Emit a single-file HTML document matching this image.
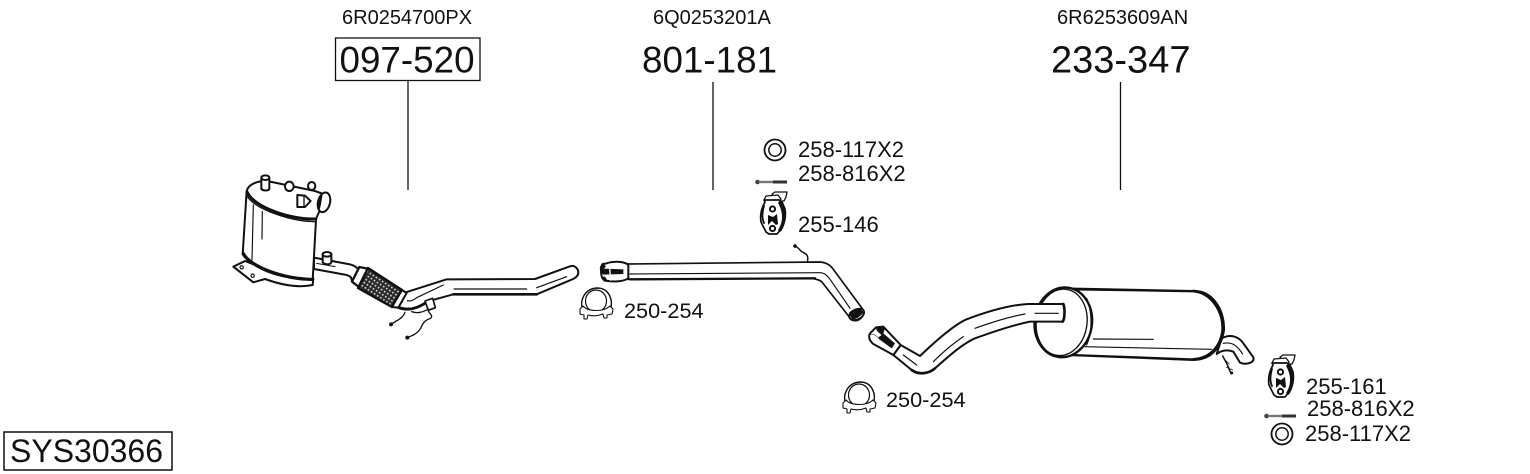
<!DOCTYPE html>
<html><head><meta charset="utf-8"><style>
html,body{margin:0;padding:0;background:#fff;width:1530px;height:474px;overflow:hidden}
svg{display:block}
text{font-family:"Liberation Sans",sans-serif;fill:#111}
.s{font-size:20px}.m{font-size:22px}.n{font-size:21.7px}.b{font-size:36.8px}
.k{fill:none;stroke:#111;stroke-linecap:round;stroke-linejoin:round}
.w{fill:#fff;stroke:#111;stroke-linecap:round;stroke-linejoin:round}
</style></head><body>
<svg width="1530" height="474" viewBox="0 0 1530 474" xmlns="http://www.w3.org/2000/svg">
<defs>
<pattern id="mesh" width="11" height="11" patternUnits="userSpaceOnUse" patternTransform="rotate(33)">
<rect width="11" height="11" fill="#2a2a2a"/><circle cx="5.500" cy="5.500" r="2.800" fill="#ddd"/>
</pattern>
<g id="clamp">
<path class="k" stroke-width="1.4" d="M-13 8 C-17 -2 -12 -14 1 -15 C13 -15 18 -3 14 8"/>
<ellipse class="k" stroke-width="1.2" cx="0" cy="-2" rx="10.500" ry="11"/>
<path class="w" stroke-width="1.1" d="M-16 6 L-13 3 C-8 9 8 9 14 3 L17 6 L16 11 L11 12 L11 15 L8 15 L7 11 C2 13 -4 13 -8 12 L-9 16 L-12 16 L-12 12 L-16 11 Z"/>
</g>
<g id="ring">
<circle class="k" stroke-width="1.8" cx="0" cy="0" r="10.500"/>
<circle class="k" stroke-width="1.5" cx="0" cy="0" r="6.200"/>
</g>
<g id="bolt">
<circle cx="2.500" cy="0" r="2.300" fill="#444"/>
<rect x="4" y="-1.200" width="15" height="2.400" fill="#777"/>
<rect x="18" y="-1.500" width="14" height="3" fill="#333"/>
</g>
<g id="hanger">
<path class="w" stroke-width="1.3" d="M7 -1 L10 -3 L22 -3 L21 2 L19 6 L11 6 Z"/>
<path class="w" stroke-width="1.3" d="M-1 5 L1 1 L13 0 L16 4 L14 6 Z"/>
<path class="w" stroke-width="1.7" d="M-1 5 L0 7 C-4 14 -5 21 -4 27 L1 37 L4 39 L12 39 L17 33 C20 27 21 20 20 14 L17 7 L14 5 Z"/>
<path class="k" stroke-width="3.400" d="M15 8 C20 17 20 27 15 35"/>
<path class="k" stroke-width="1.800" d="M-1 11 C-3 18 -3 24 -1 28"/>
<path d="M3 20 L3 30 L7 26 L11 30 L13 29 L12 19 L8 22 Z" fill="#111"/>
<circle class="w" stroke-width="2" cx="7.500" cy="14" r="2.600"/>
<circle class="w" stroke-width="2" cx="7.500" cy="33.500" r="2.600"/>
</g>
</defs>

<!-- header labels -->
<text class="s" x="342" y="24">6R0254700PX</text>
<text class="s" x="653" y="24">6Q0253201A</text>
<text class="s" x="1057" y="24">6R6253609AN</text>
<rect x="335.500" y="38" width="144.500" height="42.500" fill="none" stroke="#111" stroke-width="1.3"/>
<text class="b" x="339.500" y="72.500">097-520</text>
<text class="b" x="642" y="72.500">801-181</text>
<text x="1051" y="72.500" style="font-size:38px">233-347</text>
<path d="M408 81V190M713 82V190M1120.500 82V190" stroke="#111" stroke-width="1.3" fill="none"/>

<rect x="4" y="432" width="168" height="38" fill="none" stroke="#111" stroke-width="1.5"/>
<text x="10" y="462" style="font-size:32px">SYS30366</text>

<!-- DPF assembly, zoom coordinates -->
<g transform="translate(220 165) scale(.33333)">
<path class="w" stroke-width="6" d="M40 305 L75 288 L105 300 C150 330 220 345 280 340 L278 360 C240 368 190 362 135 342 L100 352 Z"/>
<circle class="k" stroke-width="3.500" cx="65" cy="307" r="5"/>
<circle class="k" stroke-width="3.500" cx="98" cy="332" r="5"/>
<path class="w" stroke-width="6" d="M80 78 L68 268 C95 310 195 345 278 345 L288 165 C290 150 300 140 305 125 L318 90 L285 78 L150 50 C115 44 85 58 80 78Z"/>
<path class="k" stroke-width="9" d="M82 82 C100 125 210 165 286 162"/>
<path class="k" stroke-width="4" d="M82 95 C110 135 215 170 286 170"/>
<path class="k" stroke-width="9" d="M70 265 C90 305 190 342 278 343"/>
<path class="k" stroke-width="3.500" d="M100 120 L96 285M127 140 L126 222"/>
<path class="w" stroke-width="6" d="M124 38 L124 72 C130 78 145 78 148 72 L148 38 Z"/>
<ellipse class="w" stroke-width="6" cx="136" cy="38" rx="12" ry="7"/>
<ellipse class="w" stroke-width="6" cx="208" cy="64" rx="13" ry="14"/>
<ellipse class="w" stroke-width="6" cx="275" cy="63" rx="11" ry="12"/>
<path class="w" stroke-width="6" d="M232 90 L255 92 L272 108 L255 126 L232 126 Z"/>
<path class="k" stroke-width="4" d="M252 94 L252 124"/>
<ellipse class="w" stroke-width="6" cx="312" cy="112" rx="18" ry="30" transform="rotate(14 312 112)"/>
<path d="M309 83 C295 90 288 120 296 140 C304 125 305 100 309 83Z" fill="#111"/>
<!-- pipe to flex -->
<path class="w" stroke-width="6" d="M282 278 L390 298 C415 305 425 320 415 350 L395 345 C395 335 385 330 370 328 L282 312 Z"/>
<path class="w" stroke-width="6" d="M308 268 L308 292 C315 300 330 300 334 292 L334 268 Z"/>
<ellipse class="w" stroke-width="6" cx="321" cy="268" rx="13" ry="7"/>
<path class="k" stroke-width="3" d="M290 295 L345 305"/>
<!-- flexible section -->
<path class="w" stroke-width="7" d="M418 306 L448 312 L425 372 L396 350 Z"/>
<path d="M444 309 L546 375 L516 426 L414 369 Z" fill="url(#mesh)" stroke="#111" stroke-width="7" stroke-linejoin="round"/>
<!-- main pipe -->
<path class="w" stroke-width="6" d="M548 385 L680 343 L945 342 L1050 304 C1066 298 1078 315 1074 328 C1070 338 1060 342 1050 346 L950 388 L700 388 L620 410 C595 428 565 438 535 425 L525 418 Z"/>
<path class="w" stroke-width="6" d="M546 375 L560 384 L535 428 L516 426 Z"/>
<path class="k" stroke-width="3.500" d="M702 372 L920 372M950 368 L1040 335M590 398 L670 360M562 407 C572 410 580 406 590 398"/>
<path class="k" stroke-width="8" d="M700 388 L950 388M535 428 C565 440 595 428 620 412"/>
<path class="w" stroke-width="5" d="M615 408 L638 400 L646 428 L625 436 Z"/>
<path class="k" stroke-width="4" d="M555 442 C548 462 530 465 514 478M625 438 C630 448 640 452 632 460 C618 464 610 470 602 490 C592 506 578 512 562 518M575 440 C590 446 610 442 625 432"/>
<circle cx="513" cy="478" r="6" fill="#111"/><circle cx="562" cy="518" r="6" fill="#111"/>
</g>

<!-- middle pipe, zoom coordinates -->
<g transform="translate(570 130) scale(.33333)">
<path class="w" stroke-width="5" d="M170 402 L750 396 C775 398 785 410 795 425 L880 540 C885 560 865 578 845 570 L755 455 C745 448 735 445 700 445 L170 448 Z"/>
<path class="k" stroke-width="3.500" d="M180 432 L750 428 C765 428 775 440 785 455 L840 535"/>
<path class="k" stroke-width="7" d="M180 448 L735 445"/>
<path class="w" stroke-width="6" d="M110 400 C135 392 165 395 175 405 L175 445 C155 458 125 455 105 452 C90 445 90 410 100 402 Z"/>
<path d="M100 416 L160 418 L160 432 L100 434 C90 430 90 420 100 416Z" fill="#111"/>
<path d="M118 400 L122 452" stroke="#fff" stroke-width="4"/>
<path d="M98 398 C88 408 88 420 92 424 L108 410Z M95 440 C96 448 102 456 115 456 L105 440Z" fill="#111"/>
<path d="M837 548 C850 535 870 533 880 545 C878 555 860 568 848 568 C842 562 838 555 837 548Z" fill="#111"/>
<ellipse class="k" stroke-width="5" cx="860" cy="553" rx="24" ry="15" transform="rotate(-25 860 553)"/>
<path class="k" stroke-width="4.500" d="M712 396 C716 378 712 372 695 365 C688 358 684 352 675 348"/>
<circle cx="675" cy="348" r="5.500" fill="#111"/>
</g>

<!-- small parts, upper -->
<use href="#ring" x="775" y="150"/>
<use href="#bolt" x="755" y="182"/>
<use href="#hanger" x="765" y="195"/>
<use href="#clamp" x="596" y="303"/>
<text class="m" x="798" y="157">258-117X2</text>
<text class="m" x="798" y="181">258-816X2</text>
<text class="m" x="798" y="232">255-146</text>
<text class="n" x="624" y="318">250-254</text>

<!-- rear muffler, zoom coordinates -->
<g transform="translate(860 280) scale(.33333)">
<path class="w" stroke-width="6" d="M1085 175 C1110 162 1135 168 1150 190 L1180 232 C1185 248 1160 256 1140 248 L1120 215 C1105 208 1085 210 1070 222 Z"/>
<path class="k" stroke-width="3.500" d="M1090 190 C1115 185 1130 195 1148 222"/>
<path class="w" stroke-width="6" d="M610 25 L1000 33 C1060 30 1095 95 1092 150 C1085 200 1055 240 1000 240 L620 225 Z"/>
<path class="k" stroke-width="8" d="M1000 33 C1055 38 1090 95 1088 150 C1082 200 1050 235 1000 238"/>
<path class="k" stroke-width="6" d="M620 28 L1000 34M640 225 L1000 238"/>
<path class="k" stroke-width="3.500" d="M700 177 L880 178M672 200 L1055 208"/>
<ellipse class="w" stroke-width="7" cx="610" cy="127" rx="86" ry="105" transform="rotate(8 610 127)"/>
<ellipse class="k" stroke-width="4" cx="605" cy="127" rx="76" ry="100" transform="rotate(8 605 127)"/>
<path class="k" stroke-width="3.500" d="M680 55 C695 90 700 150 680 195"/>
<path class="w" stroke-width="6" d="M610 72 C615 85 615 115 608 125 L510 125 C460 135 400 155 345 175 C310 190 270 225 225 265 C205 282 175 285 155 270 L100 225 L122 195 L180 228 C225 185 280 135 320 118 C380 95 450 75 505 72 Z"/>
<path class="k" stroke-width="3.500" d="M525 100 L595 100M345 145 C400 125 450 110 495 102M220 245 C250 215 280 190 310 170M130 225 L170 255"/>
<path class="k" stroke-width="8" d="M610 72 C615 85 615 115 608 125M155 270 C175 285 205 282 225 265"/>
<path class="w" stroke-width="6" d="M48 142 L70 140 L122 195 L100 225 L40 192 C25 180 25 165 32 158 Z"/>
<path d="M25 170 C35 158 48 165 58 178 L95 205 L105 190 L70 160 L75 145 L55 140 C42 142 50 155 65 165 L55 172 C48 165 35 155 25 170Z" fill="#111"/>
<path class="k" stroke-width="4.500" d="M1088 228 L1100 250 L1112 278"/>
<path class="k" stroke-width="2.500" d="M1095 240 L1108 252M1100 262 L1118 270"/>
<circle cx="1115" cy="279" r="4.500" fill="#111"/>
</g>

<!-- small parts, lower -->
<use href="#clamp" x="859" y="397"/>
<use href="#hanger" x="1273" y="358"/>
<use href="#bolt" x="1264" y="416"/>
<use href="#ring" x="1282" y="434"/>
<text class="n" x="886" y="407">250-254</text>
<text class="m" x="1306" y="394">255-161</text>
<text class="m" x="1307" y="416">258-816X2</text>
<text class="m" x="1305" y="441">258-117X2</text>
</svg>
</body></html>
